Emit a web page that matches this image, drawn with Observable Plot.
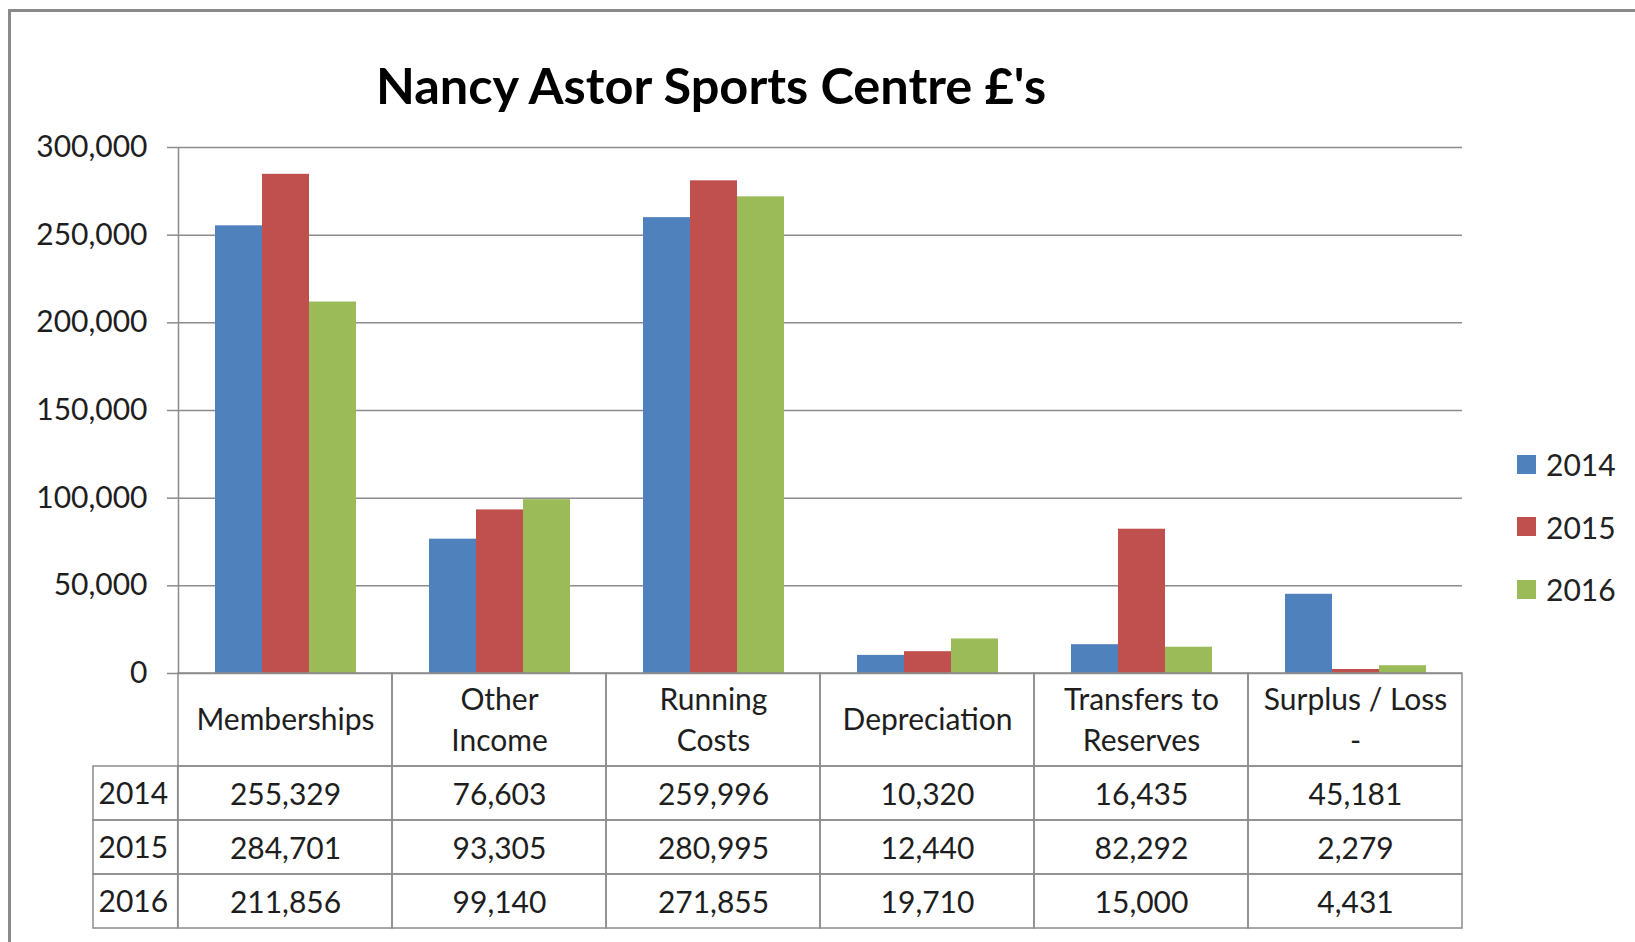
<!DOCTYPE html>
<html>
<head>
<meta charset="utf-8">
<script src="https://cdn.jsdelivr.net/npm/d3@7"></script>
<script src="https://cdn.jsdelivr.net/npm/@observablehq/plot@0.6"></script>
<style>
  html, body { margin: 0; padding: 0; background: #fff; }
  #root { position: relative; width: 1635px; height: 942px; overflow: hidden; background: #fff; font-family: Lato, "Open Sans", sans-serif; color: #222; }
  #frame { position: absolute; left: 8px; top: 9px; width: 2000px; height: 2000px; border: 3px solid #8a8a8a; }
  #title { position: absolute; left: 0; top: 55px; width: 1422px; text-align: center; font-weight: 700; font-size: 50.5px; line-height: 1.2; color: #000; white-space: nowrap; }
  .layer { position: absolute; left: 0; }
  #legend { position: absolute; left: 1517px; top: 433px; }
  .item { display: flex; align-items: center; height: 62.5px; font-size: 30px; }
  .sw { width: 19px; height: 19px; margin-right: 10px; }
</style>
</head>
<body>
<div id="root">
  <div id="frame"></div>
  <div id="title">Nancy Astor Sports Centre £'s</div>
  <div id="chart" class="layer" style="top:0px"></div>
  <div id="axisline" class="layer" style="top:0px"></div>
  <div id="header" class="layer" style="top:662px"></div>
  <div id="table" class="layer" style="top:756px"></div>
  <div id="legend"></div>
</div>
<script>
const categories = ["Memberships", "Other Income", "Running Costs", "Depreciation", "Transfers to Reserves", "Surplus / Loss -"];
const headerLabels = ["Memberships", "Other\nIncome", "Running\nCosts", "Depreciation", "Transfers to\nReserves", "Surplus / Loss\n-"];
const years = ["2014", "2015", "2016"];
const values2014 = [255329, 76603, 259996, 10320, 16435, 45181];
const values2015 = [284701, 93305, 280995, 12440, 82292, 2279];
const values2016 = [211856, 99140, 271855, 19710, 15000, 4431];
const yTicks = [0, 50000, 100000, 150000, 200000, 250000, 300000];
const colors = ["#4F81BD", "#C0504D", "#9BBB59"];

const seriesByYear = {"2014": values2014, "2015": values2015, "2016": values2016};
const rows = years.flatMap(y => categories.map((c, i) => ({year: y, category: c, value: seriesByYear[y][i]})));
const headerRows = categories.map((c, i) => ({category: c, label: headerLabels[i]}));
const fmt = d3.format(",");

const W = 1635, ML = 177, MR = 172;
const bw = (W - ML - MR) / categories.length;
const gridColor = "#8c8c8c";
const textColor = "#1e1e1e";
const baseStyle = {background: "transparent", fontFamily: "Lato, 'Open Sans', sans-serif", fontSize: "30px", color: textColor, overflow: "visible"};

const chart = Plot.plot({
  width: W, height: 685,
  marginTop: 147, marginBottom: 12, marginLeft: ML, marginRight: MR,
  style: baseStyle,
  fx: {domain: categories, padding: 0, axis: null, label: null},
  x: {domain: years, paddingInner: 0, paddingOuter: 0.75, axis: null, label: null},
  y: {domain: d3.extent(yTicks), axis: null},
  color: {domain: years, range: colors},
  marks: [
    Plot.gridY(yTicks, {stroke: gridColor, strokeOpacity: 1, strokeWidth: 1.5}),
    Plot.barY(rows, {fx: "category", x: "year", y: "value", fill: "year"}),
    Plot.axisY(yTicks, {tickFormat: fmt, tickSize: 11, tickPadding: 20, stroke: gridColor, strokeWidth: 1.5, fill: textColor, label: null})
  ]
});
document.getElementById("chart").append(chart);

// vertical value-axis line along the left edge of the first category band
const axisLine = Plot.plot({
  width: W, height: 685,
  marginTop: 147, marginBottom: 12, marginLeft: ML, marginRight: MR,
  style: baseStyle,
  x: {domain: categories, padding: 0, axis: null},
  y: {domain: d3.extent(yTicks), axis: null},
  marks: [
    Plot.ruleX(categories.slice(0, 1), {x: d => d, stroke: gridColor, strokeWidth: 1.5})
  ]
});
document.getElementById("axisline").append(axisLine);

const header = Plot.plot({
  width: W, height: 114,
  marginTop: 10.5, marginBottom: 10, marginLeft: ML, marginRight: MR,
  style: baseStyle,
  x: {domain: categories, padding: 0, axis: null},
  y: {domain: ["h"], padding: 0, axis: null},
  marks: [
    Plot.cell(headerRows, {x: "category", y: () => "h", fill: "none", stroke: gridColor, strokeWidth: 1.5}),
    Plot.text(headerRows, {x: "category", y: () => "h", text: "label", lineHeight: 1.37, dy: -3, fill: textColor, fontSize: 30})
  ]
});
document.getElementById("header").append(header);

const yearColLeft = 92;
const table = Plot.plot({
  width: W, height: 182,
  marginTop: 10, marginBottom: 10, marginLeft: yearColLeft, marginRight: MR,
  style: baseStyle,
  x: {domain: categories, padding: 0, range: [ML, W - MR], axis: null},
  y: {domain: years, padding: 0, axis: null},
  marks: [
    Plot.cell(years, {x: () => categories[0], y: d => d, insetLeft: -(ML - yearColLeft), insetRight: bw, fill: "none", stroke: gridColor, strokeWidth: 1.5}),
    Plot.cell(rows, {x: "category", y: "year", fill: "none", stroke: gridColor, strokeWidth: 1.5}),
    Plot.text(years, {y: d => d, frameAnchor: "left", textAnchor: "start", dx: 6, dy: 1, text: d => d, fill: textColor, fontSize: 30}),
    Plot.text(rows, {x: "category", y: "year", text: d => fmt(d.value), dy: 1.5, fill: textColor, fontSize: 30})
  ]
});
document.getElementById("table").append(table);

const legend = document.getElementById("legend");
years.forEach((y, i) => {
  const item = document.createElement("div");
  item.className = "item";
  const sw = document.createElement("div");
  sw.className = "sw";
  sw.style.background = colors[i];
  const t = document.createElement("span");
  t.textContent = y;
  item.append(sw, t);
  legend.append(item);
});
</script>
</body>
</html>
